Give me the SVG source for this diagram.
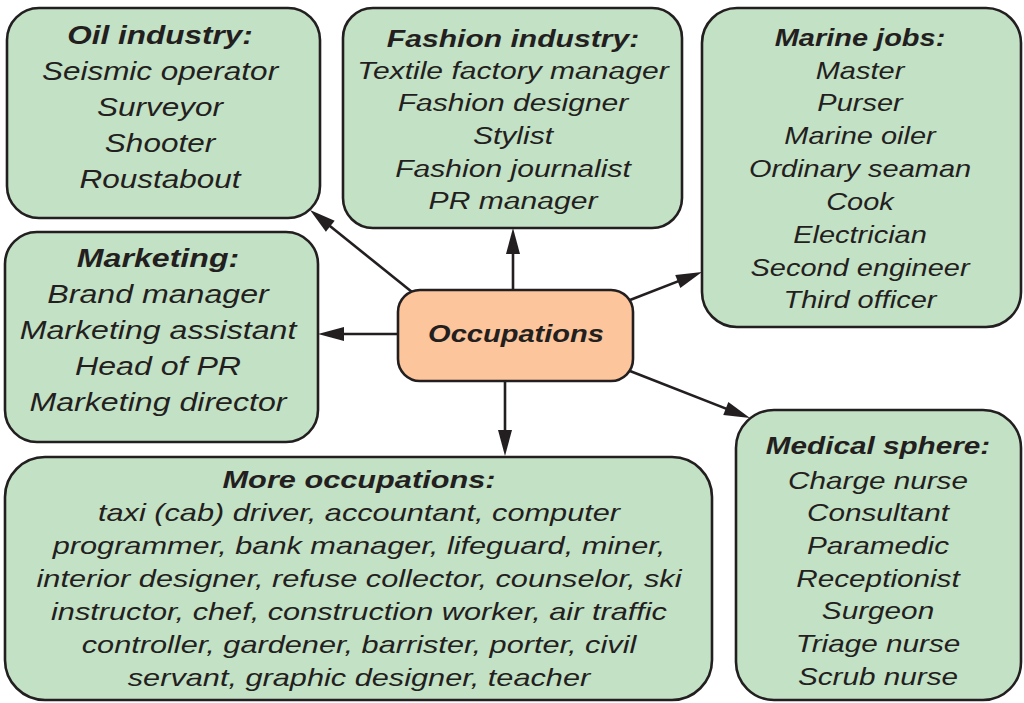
<svg xmlns="http://www.w3.org/2000/svg" width="1024" height="703" viewBox="0 0 1024 703">
<style>
.box{fill:#c3e1c5;stroke:#231f20;stroke-width:2.6}
.hub{fill:#fcc59b;stroke:#231f20;stroke-width:2.6}
text{font-family:"Liberation Sans",Arial,sans-serif;font-style:italic;fill:#231f20;text-anchor:middle}
.t{font-weight:bold}
.con{stroke:#231f20;stroke-width:2.6;fill:none;marker-end:url(#ah)}
</style>
<defs>
<marker id="ah" markerUnits="userSpaceOnUse" markerWidth="30" markerHeight="16" refX="16" refY="7" orient="auto" overflow="visible">
<path d="M0,0 L26,7 L0,14 Z" fill="#231f20"/>
</marker>
</defs>
<rect width="1024" height="703" fill="#ffffff"/>
<g id="connectors">
<line class="con" x1="412" y1="292" x2="317.8" y2="216.3"/>
<line class="con" x1="513" y1="290" x2="513" y2="238"/>
<line class="con" x1="630" y1="300" x2="692.7" y2="275.6"/>
<line class="con" x1="398" y1="334" x2="328" y2="334"/>
<line class="con" x1="505" y1="381" x2="505" y2="446"/>
<line class="con" x1="630" y1="371" x2="740.7" y2="414.4"/>
</g>
<g id="oil">
<rect class="box" x="7" y="8" width="313" height="210" rx="32"/>
<g transform="translate(160,0) scale(1.26,1)" font-size="25">
<text class="t" x="0" y="44">Oil industry:</text>
<text x="0" y="80">Seismic operator</text>
<text x="0" y="116">Surveyor</text>
<text x="0" y="152">Shooter</text>
<text x="0" y="188">Roustabout</text>
</g>
</g>
<g id="fashion">
<rect class="box" x="343" y="8" width="339" height="220" rx="30"/>
<g transform="translate(513,0) scale(1.28,1)" font-size="23.5">
<text class="t" x="0" y="47">Fashion industry:</text>
<text x="0" y="79">Textile factory manager</text>
<text x="0" y="111">Fashion designer</text>
<text x="0" y="144">Stylist</text>
<text x="0" y="177">Fashion journalist</text>
<text x="0" y="209">PR manager</text>
</g>
</g>
<g id="marine">
<rect class="box" x="702" y="8" width="319" height="319" rx="35"/>
<g transform="translate(860,0) scale(1.26,1)" font-size="23">
<text class="t" x="0" y="46">Marine jobs:</text>
<text x="0" y="79">Master</text>
<text x="0" y="111">Purser</text>
<text x="0" y="144">Marine oiler</text>
<text x="0" y="177">Ordinary seaman</text>
<text x="0" y="210">Cook</text>
<text x="0" y="243">Electrician</text>
<text x="0" y="276">Second engineer</text>
<text x="0" y="308">Third officer</text>
</g>
</g>
<g id="marketing">
<rect class="box" x="5" y="232" width="313" height="210" rx="32"/>
<g transform="translate(158,0) scale(1.26,1)" font-size="25.5">
<text class="t" x="0" y="267">Marketing:</text>
<text x="0" y="303">Brand manager</text>
<text x="0" y="339">Marketing assistant</text>
<text x="0" y="375">Head of PR</text>
<text x="0" y="411">Marketing director</text>
</g>
</g>
<g id="occupations">
<rect class="hub" x="398" y="290" width="235" height="91" rx="22"/>
<g transform="translate(516,0) scale(1.21,1)" font-size="24">
<text class="t" x="0" y="342">Occupations</text>
</g>
</g>
<g id="more">
<rect class="box" x="5" y="457" width="707" height="243" rx="40"/>
<g transform="translate(359,0) scale(1.28,1)" font-size="24">
<text class="t" x="0" y="488">More occupations:</text>
<text x="0" y="521">taxi (cab) driver, accountant, computer</text>
<text x="0" y="554">programmer, bank manager, lifeguard, miner,</text>
<text x="0" y="587">interior designer, refuse collector, counselor, ski</text>
<text x="0" y="620">instructor, chef, construction worker, air traffic</text>
<text x="0" y="653">controller, gardener, barrister, porter, civil</text>
<text x="0" y="686">servant, graphic designer, teacher</text>
</g>
</g>
<g id="medical">
<rect class="box" x="736" y="410" width="285" height="290" rx="38"/>
<g transform="translate(878,0) scale(1.27,1)" font-size="23.4">
<text class="t" x="0" y="454">Medical sphere:</text>
<text x="0" y="489">Charge nurse</text>
<text x="0" y="521">Consultant</text>
<text x="0" y="554">Paramedic</text>
<text x="0" y="587">Receptionist</text>
<text x="0" y="619">Surgeon</text>
<text x="0" y="652">Triage nurse</text>
<text x="0" y="685">Scrub nurse</text>
</g>
</g>
</svg>
